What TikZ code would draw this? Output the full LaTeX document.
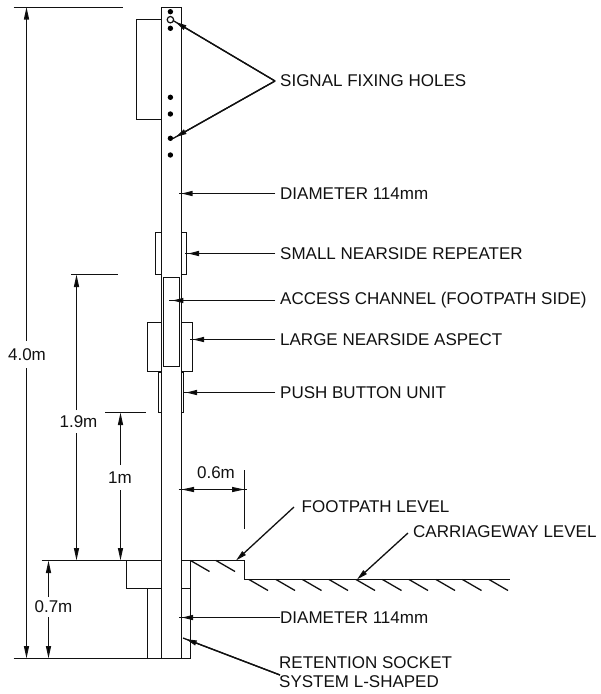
\documentclass[tikz,border=0pt]{standalone}
\usepackage{fontspec}
\setmainfont{Liberation Sans}
\usetikzlibrary{arrows.meta}
\definecolor{ink}{HTML}{111111}
\tikzset{
  part/.style={draw=ink,line width=1.4pt,fill=white},
  ln/.style={draw=ink,line width=1.4pt},
  thin ln/.style={draw=ink,line width=1.3pt,line cap=butt},
  tiphead/.style={-{Triangle[length=11pt,width=5pt,fill=black]}},
  lead/.style={thin ln,postaction={draw=ink,line width=1.3pt,shorten >=3pt,tiphead}},
  leadflush/.style={thin ln,tiphead},
  dimline/.style={thin ln,-{Triangle[length=12.5pt,width=5pt,fill=black]}},
  lbl/.style={anchor=west,inner xsep=5pt,inner ysep=0pt,text=ink,font=\fontsize{17}{20}\selectfont},
  lblplain/.style={anchor=west,inner sep=0pt,text=ink,font=\fontsize{17}{20}\selectfont},
  dimlbl/.style={inner xsep=0pt,inner ysep=0pt,text=ink,font=\fontsize{17}{20}\selectfont},
  hole/.style={circle,fill=black,inner sep=0pt,minimum size=5.4pt},
  openhole/.style={circle,draw=ink,line width=1.2pt,fill=white,inner sep=0pt,minimum size=6.4pt},
}
\begin{document}
\begin{tikzpicture}[x=1pt,y=-1pt]
\useasboundingbox (0,0) rectangle (601,694);
% attachments behind the pole
\draw[part] (136.5,19.5) rectangle (170.5,119.5);
\draw[part] (155.5,232.5) rectangle (186.5,274.5);
\draw[part] (147.5,322.5) rectangle (192.5,371.5);
\draw[part] (158.5,372.5) rectangle (183.5,412.5);
% pole
\draw[part] (161.5,658.5) -- (161.5,7.5) -- (181.5,7.5) -- (181.5,658.5);
\draw[part] (163.5,277.5) rectangle (179.5,366.5);
% holes
\node[hole] (h1) at (170.4,11.7) {};
\node[openhole] (h2) at (170.4,19.7) {};
\node[hole] (h3) at (170.4,28.3) {};
\node[hole] (h4) at (170.4,97.3) {};
\node[hole] (h5) at (170.4,114) {};
\node[hole] (h6) at (170.4,138.3) {};
\node[hole] (h7) at (170.4,155) {};
% ground and socket
\draw[ln] (41.5,560.5) -- (161.5,560.5);
\draw[ln] (181.5,560.5) -- (244.5,560.5) -- (244.5,579.5) -- (510,579.5);
\draw[ln] (126.5,560.5) -- (126.5,588.5) -- (161.5,588.5);
\draw[ln] (147.5,588.5) -- (147.5,658.5);
\draw[ln] (190.5,560.5) -- (190.5,658.5);
\draw[ln] (181.5,588.5) -- (190.5,588.5);
\draw[ln] (13.5,658.5) -- (190.5,658.5);
% hatching
\foreach \hx/\hy in {190.5/560.5,216/560.5,249/579.5,276/579.5,302.5/579.5,329/579.5,356/579.5,382.5/579.5,409/579.5,436/579.5,462.5/579.5,489/579.5}
  \draw[thin ln] (\hx,\hy) -- ++(19,11);
% extension lines
\coordinate (top1) at (13.5,7.5);
\coordinate (top2) at (123,7.5);
\draw[ln] (top1) -- (top2);
\draw[ln] (71,274.5) -- (118,274.5);
\draw[ln] (105,412.5) -- (146,412.5);
\draw[thin ln] (244.5,470) -- (244.5,529);
% right-hand labels and leaders
\node[lbl] (lSig) at (275,81) {SIGNAL FIXING HOLES};
\coordinate (tSig1) at (173,20.5);
\coordinate (tSig2) at (173,138.5);
\draw[lead] (lSig.west) -- (tSig1);
\draw[lead] (lSig.west) -- (tSig2);
\node[lbl] (lDia) at (275,193.5) {DIAMETER 114mm};
\coordinate (tDia) at (178.5,193.5);
\draw[lead] (lDia.west) -- (tDia);
\node[lbl] (lRep) at (275,253.5) {SMALL NEARSIDE REPEATER};
\coordinate (tRep) at (185,253.5);
\draw[lead] (lRep.west) -- (tRep);
\node[lbl] (lAcc) at (275,300.5) {ACCESS CHANNEL (FOOTPATH SIDE)};
\coordinate (tAcc) at (169.3,300.5);
\draw[lead] (lAcc.west) -- (tAcc);
\node[lbl] (lLar) at (275,339.5) {LARGE NEARSIDE ASPECT};
\coordinate (tLar) at (190,339.5);
\draw[lead] (lLar.west) -- (tLar);
\node[lbl] (lPus) at (275,392.5) {PUSH BUTTON UNIT};
\coordinate (tPus) at (183,392.5);
\draw[lead] (lPus.west) -- (tPus);
\node[lblplain] (lFoot) at (301.5,507) {FOOTPATH LEVEL};
\coordinate (sFoot) at (294,507);
\coordinate (tFoot) at (236,560.5);
\draw[leadflush] (sFoot) -- (tFoot);
\node[lblplain] (lCar) at (413,532) {CARRIAGEWAY LEVEL};
\coordinate (sCar) at (408,533);
\coordinate (tCar) at (357,579.5);
\draw[leadflush] (sCar) -- (tCar);
\node[lblplain] (lDia2) at (280,617.5) {DIAMETER 114mm};
\coordinate (tDia2) at (179,617.5);
\draw[lead] (lDia2.west) -- (tDia2);
\node[lblplain] (lRet) at (279,663) {RETENTION SOCKET};
\node[lblplain] (lSys) at (279,682) {SYSTEM L-SHAPED};
\coordinate (sRet) at (280,675);
\coordinate (tRet) at (183,638);
\draw[lead] (sRet) -- (tRet);
% dimensions
\node[dimlbl,minimum height=27pt] (d4) at (27,354.5) {4.0m};
\draw[dimline] (26.5,341) -- (26.5,7);
\draw[dimline] (26.5,368) -- (26.5,658.5);
\node[dimlbl,minimum height=23pt] (d19) at (78.5,421.5) {1.9m};
\draw[dimline] (76.5,410) -- (76.5,274.5);
\draw[dimline] (76.5,433) -- (76.5,560.5);
\node[dimlbl,minimum height=25pt] (d1) at (120,477.5) {1m};
\draw[dimline] (120.5,465) -- (120.5,412.5);
\draw[dimline] (120.5,490) -- (120.5,560.5);
\node[dimlbl,minimum height=20pt] (d07) at (53.5,607) {0.7m};
\draw[dimline] (48.5,597) -- (48.5,560.5);
\draw[dimline] (48.5,617) -- (48.5,658.5);
\node[dimlbl] (d06) at (216,473) {0.6m};
\coordinate (d06a) at (178.5,489.5);
\coordinate (d06b) at (247,489.5);
\draw[thin ln] (d06a) -- (d06b);
\draw[thin ln,{Triangle[length=12.5pt,width=5pt,fill=black]}-{Triangle[length=12.5pt,width=5pt,fill=black]}] (181.5,489.5) -- (244.5,489.5);
\end{tikzpicture}
\end{document}
